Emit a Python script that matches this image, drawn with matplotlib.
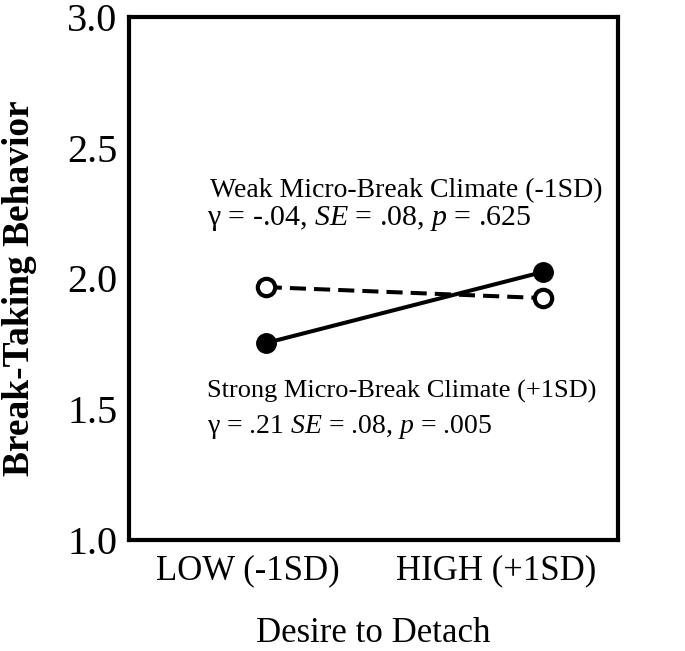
import matplotlib
matplotlib.use("Agg")
import matplotlib.pyplot as plt

# data
levels = ["LOW (-1SD)", "HIGH (+1SD)"]
x_pos = [0, 1]
label_pos = [-0.065, 0.83]     # where the category labels sit under the axis
weak_vals = [1.967, 1.925]     # weak micro-break climate (-1SD)
strong_vals = [1.753, 2.025]   # strong micro-break climate (+1SD)
y_ticks = [1.0, 1.5, 2.0, 2.5, 3.0]

plt.rcParams['font.family'] = ['Liberation Serif', 'DejaVu Serif']
plt.rcParams['mathtext.fontset'] = 'custom'
plt.rcParams['mathtext.rm'] = 'Liberation Serif'
plt.rcParams['mathtext.it'] = 'Liberation Serif:italic'

fig = plt.figure(figsize=(6.85, 6.51), dpi=100)
ax = fig.add_axes([0.188, 0.1705, 0.714, 0.8035])

ax.plot(x_pos, weak_vals, color='black', lw=2.9, ls=(0, (4, 2)),
        marker='o', ms=12.5, mfc='white', mec='black', mew=3, zorder=3)
ax.plot(x_pos, strong_vals, color='black', lw=2.9, ls='-',
        marker='o', ms=14, mfc='black', mec='black', zorder=4)

ax.set_xlim(-0.494, 1.27)
ax.set_ylim(1.0, 3.0)
ax.set_xticks(label_pos)
ax.set_xticklabels(levels)
ax.set_yticks(y_ticks)
ax.set_yticklabels([f"{v:.1f}" for v in y_ticks])
ax.tick_params(axis='both', length=0)
ax.tick_params(axis='y', pad=8, labelsize=29)
ax.tick_params(axis='x', pad=10, labelsize=25)
for s in ax.spines.values():
    s.set_linewidth(3)

ax.set_xlabel("Desire to Detach", fontsize=25)
ax.xaxis.set_label_coords(0.5, -0.147)
ax.set_ylabel("Break-Taking Behavior", fontsize=27, fontweight='bold')
ax.yaxis.set_label_coords(-0.188, 0.482)

ax.text(0.166, 0.656, "Weak Micro-Break Climate (-1SD)", transform=ax.transAxes,
        fontsize=20, va='baseline', ha='left')
ax.text(0.160, 0.602, r"γ = -.04, $\mathit{SE}$ = .08, $\mathit{p}$ = .625", transform=ax.transAxes,
        fontsize=21.5, va='baseline', ha='left')
ax.text(0.160, 0.273, "Strong Micro-Break Climate (+1SD)", transform=ax.transAxes,
        fontsize=19, va='baseline', ha='left')
ax.text(0.160, 0.205, r"γ = .21 $\mathit{SE}$ = .08, $\mathit{p}$ = .005", transform=ax.transAxes,
        fontsize=20, va='baseline', ha='left')

fig.savefig("out.png", dpi=100)
